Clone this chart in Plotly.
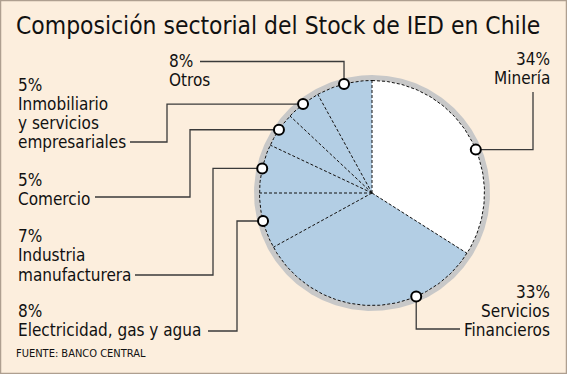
import numpy as np
import plotly.graph_objects as go

# ---------------- data ----------------
categories = ["Minería", "Servicios Financieros", "Electricidad, gas y agua",
              "Industria manufacturera", "Comercio",
              "Inmobiliario y servicios empresariales", "Otros"]
values = [34, 33, 8, 7, 5, 5, 8]
name_lines = [["Minería"], ["Servicios", "Financieros"], ["Electricidad, gas y agua"],
              ["Industria", "manufacturera"], ["Comercio"],
              ["Inmobiliario", "y servicios", "empresariales"], ["Otros"]]
title_text = "Composición sectorial del Stock de IED en Chile"
source_text = "FUENTE: BANCO CENTRAL"

# ---------------- style / layout ----------------
W, H = 567, 374
BG = "#FCEEDD"
BLUE = "#B3CEE4"
slice_colors = ["#FFFFFF"] + [BLUE] * 6
RING = "#C8C8C8"
FONT = "DejaVu Sans Condensed, DejaVu Sans, sans-serif"
CX, CY, R, R_RING = 372, 193, 112.5, 118

anchor_frac = [0.55, 0.29, 0.5, 0.5, 0.5, 0.5, 0.5]
routes = [
    [("h", 533), ("v", 92)],
    [("v", 329), ("h", 460)],
    [("h", 237), ("v", 331), ("h", 208)],
    [("h", 213), ("v", 275), ("h", 135)],
    [("h", 190), ("v", 197), ("h", 95)],
    [("h", 167), ("v", 142), ("h", 130)],
    [("v", 61.5), ("h", 200)],
]
text_pos = [  # x, align, first-line centre, line step
    (552, "right", 59, 19),
    (552, "right", 292, 19),
    (16, "left", 310.5, 19.5),
    (16, "left", 235.5, 19.5),
    (16, "left", 179.5, 19.5),
    (16, "left", 85, 19),
    (167, "left", 61, 19),
]


def pt(theta_deg, r):
    t = np.radians(theta_deg)
    return CX + r * np.sin(t), CY - r * np.cos(t)


total = float(sum(values))
cum = np.concatenate([[0], np.cumsum(values)]) / total * 360.0

fig = go.Figure()

# grey ring behind pie
tt = np.linspace(0, 360, 361)
rx, ry = pt(tt, R_RING)
fig.add_trace(go.Scatter(x=rx, y=ry, mode="lines", fill="toself", fillcolor=RING,
                         line=dict(width=0), hoverinfo="skip", showlegend=False))

# slices
for i, (cat, v) in enumerate(zip(categories, values)):
    arc = np.linspace(cum[i], cum[i + 1], max(4, int(v * 4)))
    ax_, ay_ = pt(arc, R)
    xs = np.concatenate([[CX], ax_, [CX]])
    ys = np.concatenate([[CY], ay_, [CY]])
    fig.add_trace(go.Scatter(x=xs, y=ys, mode="lines", fill="toself",
                             fillcolor=slice_colors[i], line=dict(width=0),
                             name=cat, text=f"{cat}: {v}%", hoverinfo="text",
                             showlegend=False))

# dashed boundaries
dx, dy = [], []
ox, oy = pt(tt, R)
dx += list(ox) + [None]
dy += list(oy) + [None]
for a in cum[:-1]:
    ex, ey = pt(a, R)
    dx += [CX, ex, None]
    dy += [CY, ey, None]
fig.add_trace(go.Scatter(x=dx, y=dy, mode="lines",
                         line=dict(color="#111111", width=1, dash="3px,2px"),
                         hoverinfo="skip", showlegend=False))

# leader lines
mxs, mys = [], []
lx, ly = [], []
for i in range(len(values)):
    a = cum[i] + anchor_frac[i] * (cum[i + 1] - cum[i])
    mx, my = pt(a, R)
    mxs.append(mx)
    mys.append(my)
    px, py = [mx], [my]
    cx_, cy_ = mx, my
    for d, val in routes[i]:
        if d == "h":
            cx_ = val
        else:
            cy_ = val
        px.append(cx_)
        py.append(cy_)
    lx += px + [None]
    ly += py + [None]
fig.add_trace(go.Scatter(x=lx, y=ly, mode="lines",
                         line=dict(color="#3a3a3a", width=1.3),
                         hoverinfo="skip", showlegend=False))

# markers
fig.add_trace(go.Scatter(x=mxs, y=mys, mode="markers",
                         marker=dict(size=10, color="white",
                                     line=dict(color="black", width=2)),
                         text=[f"{c}: {v}%" for c, v in zip(categories, values)],
                         hoverinfo="text", showlegend=False))

# labels
annotations = []
for i, v in enumerate(values):
    x0, align, y0, step = text_pos[i]
    lines = [f"{v}%"] + name_lines[i]
    for k, ln in enumerate(lines):
        annotations.append(dict(x=x0, y=y0 + k * step, xref="x", yref="y",
                                text=ln, showarrow=False, xanchor=align,
                                yanchor="middle", align=align,
                                font=dict(family=FONT, size=17, color="#111111")))

annotations.append(dict(x=14, y=25.5, xref="x", yref="y", text=title_text,
                        showarrow=False, xanchor="left", yanchor="middle",
                        font=dict(family=FONT, size=24.4, color="#111111")))
annotations.append(dict(x=14, y=353, xref="x", yref="y", text=source_text,
                        showarrow=False, xanchor="left", yanchor="middle",
                        font=dict(family=FONT, size=11, color="#111111")))

fig.update_layout(
    width=W, height=H, margin=dict(l=0, r=0, t=0, b=0),
    paper_bgcolor=BG, plot_bgcolor=BG,
    xaxis=dict(range=[0, W], visible=False, fixedrange=True),
    yaxis=dict(range=[H, 0], visible=False, fixedrange=True),
    annotations=annotations,
    shapes=[dict(type="rect", xref="paper", yref="paper", x0=0, y0=0, x1=1, y1=1,
                 line=dict(color="#AE9F90", width=2.5), layer="above")],
    showlegend=False,
)

fig.write_html("out.html",
               config={"displayModeBar": False},
               post_script="document.body.style.margin='0';document.body.style.overflow='hidden';")
